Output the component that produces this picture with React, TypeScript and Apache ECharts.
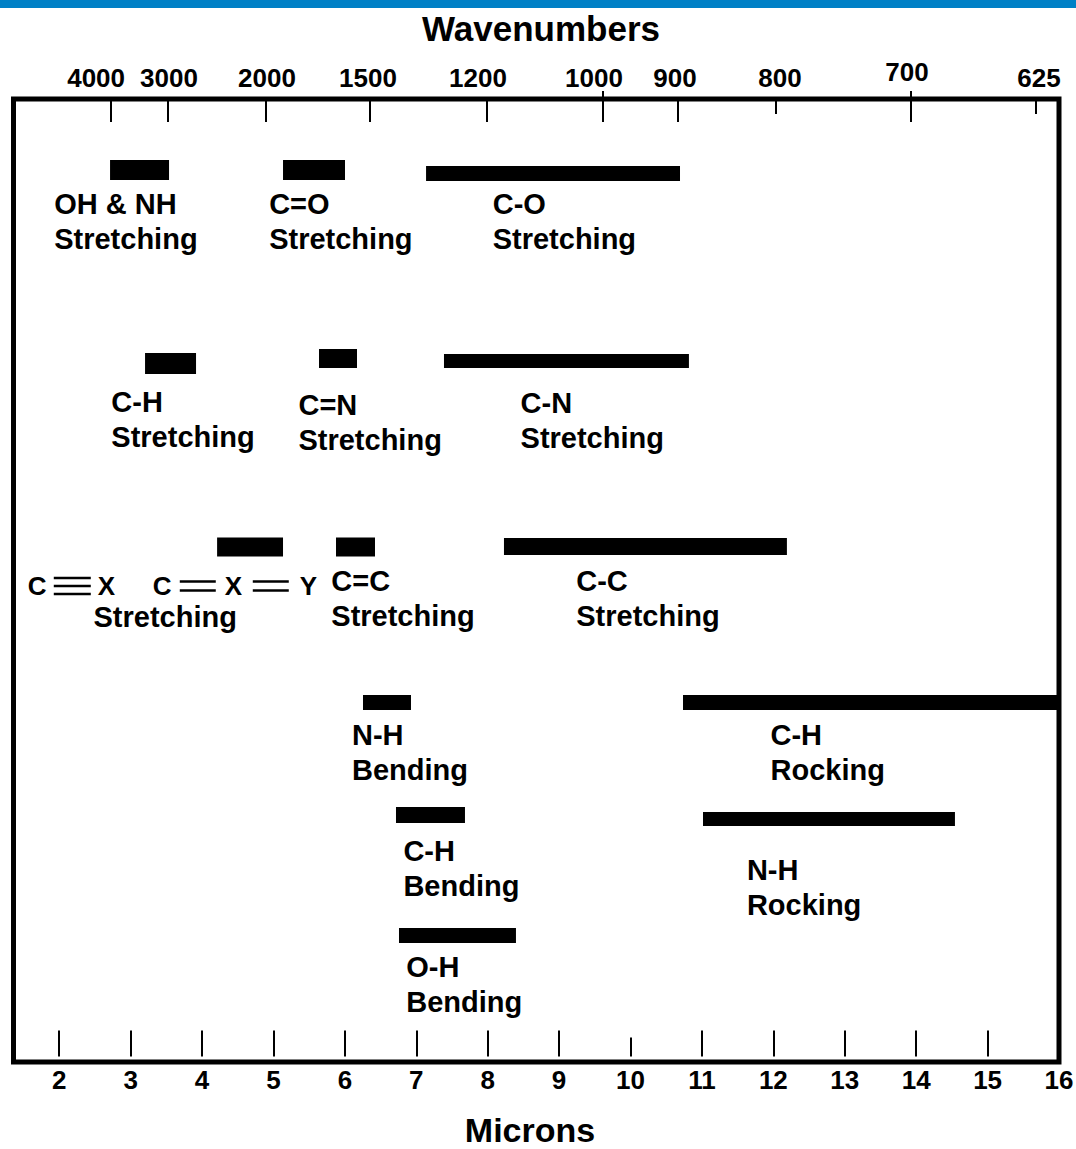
import React, { useEffect, useRef } from "react";
import * as echarts from "echarts";

// ---------- DATA ----------
// Bottom axis (microns)
const micronLabels = [2, 3, 4, 5, 6, 7, 8, 9, 10, 11, 12, 13, 14, 15, 16];
const micronLongTicks = [2, 3, 4, 5, 6, 7, 8, 9, 11, 12, 13, 14, 15, 16];
const micronShortTicks = [10];

// Top axis (wavenumbers, cm-1) – positions, in microns
const wavenumberLabels = ["4000", "3000", "2000", "1500", "1200", "1000", "900", "800", "700", "625"];
const wavenumberTickMicrons = [2.726, 3.524, 4.896, 6.352, 7.99, 9.615, 10.665, 12.037, 13.927, 15.678];
const wavenumberLabelMicrons = [2.517, 3.538, 4.91, 6.324, 7.864, 9.489, 10.623, 12.093, 13.871, 15.72];
const wavenumberShortTicks = ["800", "625"];
const wavenumberRaisedTicks = ["1000", "700"];

// Absorption bands: start / end in microns, vertical row level (0 = top, 100 = bottom)
const bandNames = [
  "OH & NH stretching", "C=O stretching", "C-O stretching",
  "C-H stretching", "C=N stretching", "C-N stretching",
  "C≡X / C=X=Y stretching", "C=C stretching", "C-C stretching",
  "N-H bending", "C-H rocking", "C-H bending", "N-H rocking", "O-H bending",
];
const bandStart = [2.712, 5.134, 7.137, 3.202, 5.638, 7.388, 4.211, 5.876, 8.228, 6.254, 10.735, 6.716, 11.015, 6.758];
const bandEnd = [3.538, 6.002, 10.693, 3.916, 6.17, 10.818, 5.134, 6.422, 12.19, 6.926, 16.0, 7.682, 14.543, 8.396];
const bandLevel = [7.37, 7.37, 7.74, 27.47, 26.95, 27.21, 46.52, 46.52, 46.47, 62.67, 62.67, 74.35, 74.77, 86.86];

// Band annotations
const labelTexts = [
  "OH & NH\nStretching", "C=O\nStretching", "C-O\nStretching",
  "C-H\nStretching", "C=N\nStretching", "C-N\nStretching",
  "Stretching", "C=C\nStretching", "C-C\nStretching",
  "N-H\nBending", "C-H\nRocking", "C-H\nBending", "N-H\nRocking", "O-H\nBending",
];
const labelMicron = [1.93, 4.94, 8.07, 2.73, 5.35, 8.46, 2.48, 5.81, 9.24, 6.1, 11.96, 6.82, 11.63, 6.86];
const labelLevel = [12.72, 12.72, 12.72, 33.28, 33.64, 33.39, 53.79, 51.87, 51.87, 67.81, 67.86, 79.91, 81.88, 92.0];

// Anchor of the "C≡X  C=X=Y" formula (micron, level)
const formulaAnchor = [1.56, 50.57];

// ---------- STYLE ----------
const FONT = '"Liberation Sans", Arial, sans-serif';
const X_MIN = 1.36;
const X_MAX = 16;
const bandThickness = [20, 20, 15, 21, 19, 14, 19, 19, 17, 15, 15, 16, 14, 15];

function wnFormatter(v: number) {
  let best = 0;
  let bd = Infinity;
  wavenumberLabelMicrons.forEach((m, i) => {
    const d = Math.abs(m - v);
    if (d < bd) { bd = d; best = i; }
  });
  const t = wavenumberLabels[best];
  return t === "700" ? "{hi|" + t + "}" : "{n|" + t + "}";
}

export default function App() {
  const ref = useRef<HTMLDivElement>(null);

  useEffect(() => {
    if (!ref.current) return;
    const chart = echarts.init(ref.current, undefined, { renderer: "svg" });

    const digitStyle = { color: "#000", fontSize: 26, fontWeight: "bold", fontFamily: FONT };
    const baseX = {
      type: "value",
      min: X_MIN,
      max: X_MAX,
      splitLine: { show: false },
      axisLine: { show: false, onZero: false },
    };
    const topLong = wavenumberTickMicrons.filter((_, i) => !wavenumberShortTicks.includes(wavenumberLabels[i]));
    const topShort = wavenumberTickMicrons.filter((_, i) => wavenumberShortTicks.includes(wavenumberLabels[i]));
    const topRaised = wavenumberTickMicrons.filter((_, i) => wavenumberRaisedTicks.includes(wavenumberLabels[i]));

    const option: any = {
      animation: false,
      backgroundColor: "#ffffff",
      grid: {
        left: 13.5, right: 17, top: 99, bottom: 87,
        show: true, borderColor: "#000", borderWidth: 5, backgroundColor: "transparent",
        outerBoundsMode: "none",
      },
      xAxis: [
        {
          ...baseX, position: "bottom", offset: -5.5,
          axisTick: { show: true, inside: true, length: 26, customValues: micronLongTicks, lineStyle: { color: "#000", width: 2 } },
          axisLabel: { show: true, customValues: micronLabels, margin: 10, ...digitStyle },
        },
        {
          ...baseX, position: "bottom", offset: -5.5,
          axisTick: { show: true, inside: true, length: 19, customValues: micronShortTicks, lineStyle: { color: "#000", width: 2 } },
          axisLabel: { show: false },
        },
        {
          ...baseX, position: "top", offset: 0,
          axisTick: { show: true, inside: true, length: 23, customValues: topLong, lineStyle: { color: "#000", width: 2 } },
          axisLabel: {
            show: true, customValues: wavenumberLabelMicrons, margin: 8, formatter: wnFormatter,
            rich: {
              n: { ...digitStyle },
              hi: { ...digitStyle, padding: [0, 0, 6, 0] },
            },
          },
        },
        {
          ...baseX, position: "top", offset: 0,
          axisTick: { show: true, inside: true, length: 15, customValues: topShort, lineStyle: { color: "#000", width: 2 } },
          axisLabel: { show: false },
        },
        {
          ...baseX, position: "top", offset: 0,
          axisTick: { show: true, inside: false, length: 8, customValues: topRaised, lineStyle: { color: "#000", width: 2 } },
          axisLabel: { show: false },
        },
      ],
      yAxis: { type: "value", min: 0, max: 100, inverse: true, show: false, splitLine: { show: false } },
      graphic: [
        { type: "rect", shape: { x: 0, y: 0, width: 1076, height: 8 }, style: { fill: "#0080C6" } },
        {
          type: "text", x: 541, y: 28,
          style: { text: "Wavenumbers", fill: "#000", font: 'bold 35px "Liberation Sans", Arial, sans-serif', align: "center", verticalAlign: "middle", textAlign: "center", textVerticalAlign: "middle" },
        },
        {
          type: "text", x: 530, y: 1130,
          style: { text: "Microns", fill: "#000", font: 'bold 34px "Liberation Sans", Arial, sans-serif', align: "center", verticalAlign: "middle", textAlign: "center", textVerticalAlign: "middle" },
        },
      ],
      series: [
        {
          type: "custom",
          name: "bands",
          xAxisIndex: 0,
          yAxisIndex: 0,
          data: bandStart.map((s, i) => ({ name: bandNames[i], value: [s, bandEnd[i], bandLevel[i]] })),
          encode: { x: [0, 1], y: 2 },
          renderItem: (params: any, api: any) => {
            const a = api.coord([api.value(0), api.value(2)]);
            const b = api.coord([api.value(1), api.value(2)]);
            const h = bandThickness[params.dataIndex];
            return {
              type: "rect",
              shape: { x: a[0], y: a[1] - h / 2, width: b[0] - a[0], height: h },
              style: { fill: "#000" },
            };
          },
        },
        {
          type: "custom",
          name: "labels",
          xAxisIndex: 0,
          yAxisIndex: 0,
          data: labelMicron.map((m, i) => [m, labelLevel[i]]),
          encode: { x: 0, y: 1 },
          renderItem: (params: any, api: any) => {
            const p = api.coord([api.value(0), api.value(1)]);
            return {
              type: "text",
              x: p[0],
              y: p[1],
              style: {
                text: labelTexts[params.dataIndex],
                fill: "#000",
                fontSize: 29,
                fontWeight: "bold",
                fontFamily: FONT,
                lineHeight: 35,
                align: "left",
                verticalAlign: "middle",
              },
            };
          },
        },
        {
          type: "custom",
          name: "formula",
          xAxisIndex: 0,
          yAxisIndex: 0,
          data: [formulaAnchor],
          encode: { x: 0, y: 1 },
          renderItem: (params: any, api: any) => {
            const p = api.coord([api.value(0), api.value(1)]);
            const t = (s: string, dx: number) => ({
              type: "text", x: p[0] + dx, y: p[1],
              style: { text: s, fill: "#000", fontSize: 26, fontWeight: "bold", fontFamily: FONT, align: "left", verticalAlign: "middle" },
            });
            const l = (x1: number, x2: number, dy: number) => ({
              type: "line",
              shape: { x1: p[0] + x1, y1: p[1] + dy, x2: p[0] + x2, y2: p[1] + dy },
              style: { stroke: "#000", lineWidth: 2.5 },
            });
            return {
              type: "group",
              children: [
                t("C", 0), l(26, 63, -8), l(26, 63, 0), l(26, 63, 8), t("X", 70),
                t("C", 125), l(152, 188, -4.5), l(152, 188, 4.5), t("X", 197),
                l(225, 261, -4.5), l(225, 261, 4.5), t("Y", 272),
              ],
            };
          },
        },
      ],
    };

    chart.setOption(option);
    return () => chart.dispose();
  }, []);

  return (
    <div
      ref={ref}
      style={{ position: "absolute", left: 0, top: 0, width: 1076, height: 1149, background: "#fff" }}
    />
  );
}
